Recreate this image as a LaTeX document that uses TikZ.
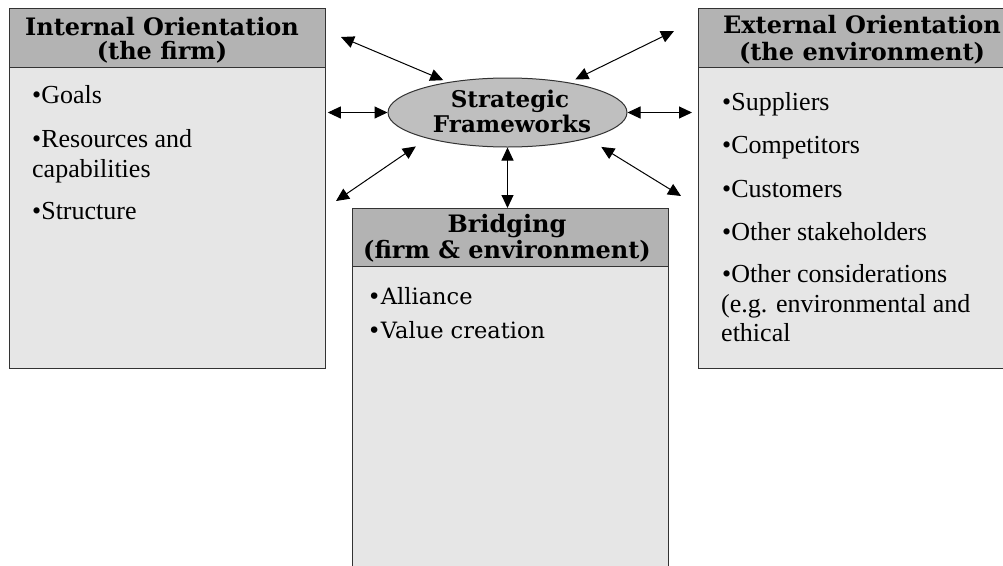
\documentclass[tikz,border=0pt]{standalone}
\usepackage{fontspec}
\setmainfont{Liberation Serif}
\newfontfamily\hdf{DejaVu Serif}
\usetikzlibrary{arrows.meta,shapes.geometric}
\definecolor{hdrgray}{HTML}{B3B3B3}
\definecolor{bodygray}{HTML}{E6E6E6}
\definecolor{ellgray}{HTML}{BFBFBF}
\definecolor{edgec}{HTML}{333333}
\begin{document}
\begin{tikzpicture}[x=1pt,y=-1pt,
  hdr/.style={draw=edgec, line width=1.3pt, fill=hdrgray, inner sep=0pt, anchor=north west},
  bodybox/.style={draw=edgec, line width=1.3pt, fill=bodygray, inner sep=0pt, anchor=north west},
  htext/.style={font=\hdf\bfseries\fontsize{24}{26}\selectfont, inner sep=0pt, anchor=base},
  etext/.style={font=\hdf\bfseries\fontsize{23}{26}\selectfont, inner sep=0pt, anchor=base},
  item/.style={font=\fontsize{26}{30}\selectfont, inner sep=0pt, anchor=base west},
  bitem/.style={font=\hdf\fontsize{22.5}{26}\selectfont, inner sep=0pt, anchor=base west},
  biarrow/.style={{Triangle[length=13pt,width=12pt]}-{Triangle[length=13pt,width=12pt]}, line width=1pt, black}
]
\path[use as bounding box] (0,0) rectangle (1003,565);
\clip (0,0) rectangle (1003,565);
\fill[white] (0,0) rectangle (1003,565);

% Internal box
\node[bodybox, minimum width=316pt, minimum height=301pt] (bI) at (9,67) {};
\node[hdr, minimum width=316pt, minimum height=59pt] (hI) at (9,8) {};
\node[htext] (tI1) at (162,35) {Internal Orientation};
\node[htext] (tI2) at (162,59) {(the firm)};
\node[item] (iI1) at (32,103) {•Goals};
\node[item] (iI2) at (32,147) {•Resources and};
\node[item] (iI3) at (32,177) {capabilities};
\node[item] (iI4) at (32,219) {•Structure};

% External box
\node[bodybox, minimum width=330pt, minimum height=301pt] (bE) at (698,67) {};
\node[hdr, minimum width=330pt, minimum height=59pt] (hE) at (698,8) {};
\node[htext] (tE1) at (862,33) {External Orientation};
\node[htext] (tE2) at (862,60) {(the environment)};
\node[item] (iE1) at (722,110) {•Suppliers};
\node[item] (iE2) at (722,153.5) {•Competitors};
\node[item] (iE3) at (722,197) {•Customers};
\node[item] (iE4) at (722,240) {•Other stakeholders};
\node[item] (iE5) at (722,282) {•Other considerations};
\node[item] (iE6) at (721,312) {(e.g. environmental and};
\node[item] (iE7) at (721,341) {ethical};

% Bridging box
\node[bodybox, minimum width=316pt, minimum height=330pt] (bB) at (352,266) {};
\node[hdr, minimum width=316pt, minimum height=58pt] (hB) at (352,208) {};
\node[htext] (tB1) at (507,232) {Bridging};
\node[htext] (tB2) at (507,258) {(firm \& environment)};
\node[bitem] (iB1) at (367.5,304) {•Alliance};
\node[bitem] (iB2) at (367.5,338) {•Value creation};

% Central ellipse
\node[draw=edgec, line width=1pt, fill=ellgray, ellipse, minimum width=239pt, minimum height=69pt, inner sep=0pt] (ell) at (507.5,112.5) {};
\node[etext] (s1) at (510,107) {Strategic};
\node[etext] (s2) at (512,132) {Frameworks};

% Arrows
\coordinate (pUL) at (341,37);
\coordinate (pUR) at (674,31);
\coordinate (pLL) at (336,201);
\coordinate (pLR) at (681,196);
\draw[biarrow, shorten >=5pt] (pUL) -- (ell.153);
\draw[biarrow, shorten >=7pt] (pUR) -- (ell.26);
\draw[biarrow, shorten >=14pt] (pLL) -- (ell.198);
\draw[biarrow, shorten >=16pt] (pLR) -- (ell.342);
\draw[biarrow, shorten >=1.5pt] (ell.west) -- (ell.west -| bI.east);
\draw[biarrow, shorten >=6pt] (ell.east) -- (ell.east -| bE.west);
\draw[biarrow] (ell.south) -- (ell.south |- hB.north);
\end{tikzpicture}
\end{document}
